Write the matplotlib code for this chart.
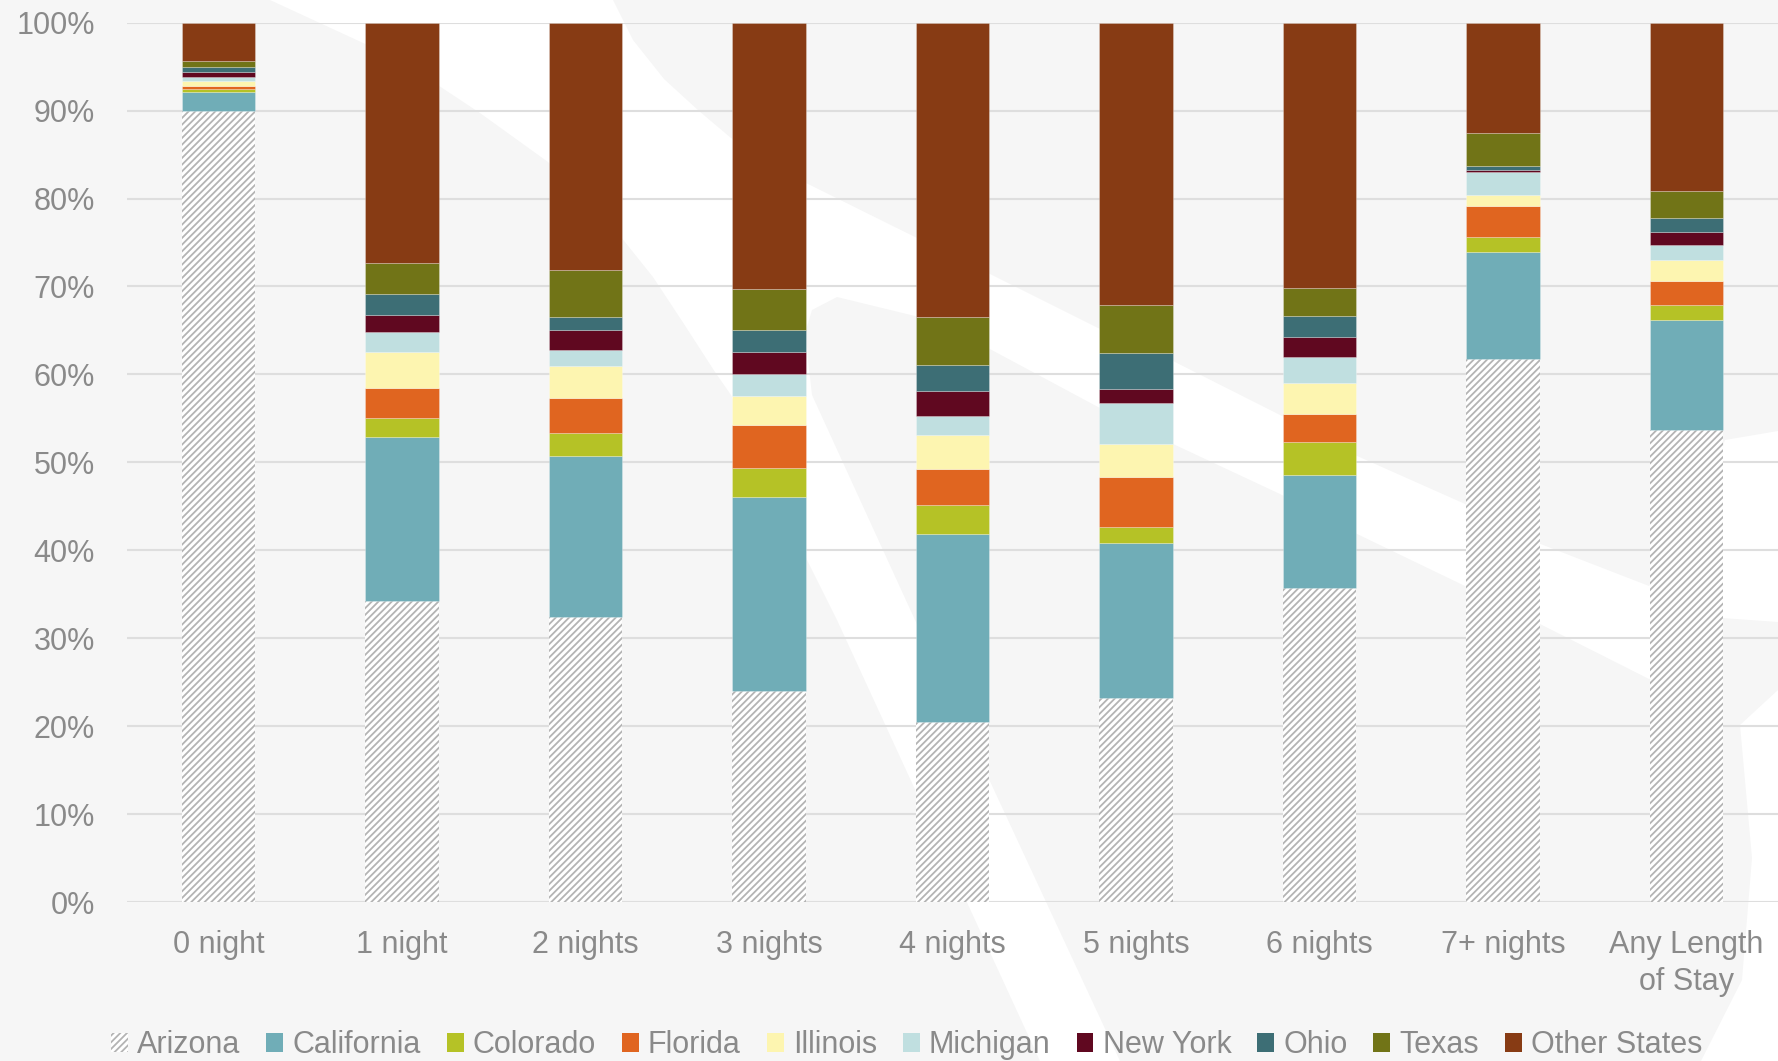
import numpy as np
import matplotlib
matplotlib.use("Agg")
import matplotlib.pyplot as plt
from matplotlib.patches import Polygon, Patch

plt.rcParams["font.family"] = ["Liberation Sans", "DejaVu Sans"]
plt.rcParams["hatch.linewidth"] = 1.3

categories = ["0 night", "1 night", "2 nights", "3 nights", "4 nights",
              "5 nights", "6 nights", "7+ nights", "Any Length\nof Stay"]

# udzialy w %
arizona    = [90.0, 34.2, 32.4, 24.0, 20.5, 23.2, 35.7, 61.7, 53.7]
california = [2.1, 18.7, 18.3, 22.1, 21.4, 17.6, 12.9, 12.2, 12.5]
colorado   = [0.38, 2.2, 2.6, 3.3, 3.3, 1.8, 3.7, 1.7, 1.7]
florida    = [0.34, 3.3, 4.0, 4.9, 4.0, 5.7, 3.2, 3.5, 2.7]
illinois   = [0.57, 4.1, 3.7, 3.2, 3.9, 3.8, 3.5, 1.3, 2.4]
michigan   = [0.45, 2.3, 1.8, 2.6, 2.2, 4.6, 3.0, 2.6, 1.7]
new_york   = [0.57, 2.0, 2.3, 2.5, 2.8, 1.6, 2.2, 0.2, 1.5]
ohio       = [0.5, 2.4, 1.4, 2.5, 3.0, 4.1, 2.5, 0.5, 1.6]
texas      = [0.7, 3.5, 5.4, 4.6, 5.4, 5.5, 3.1, 3.8, 3.1]
other      = [4.4, 27.3, 28.1, 30.3, 33.5, 32.1, 30.2, 12.5, 19.1]

series_names = ["Arizona", "California", "Colorado", "Florida", "Illinois",
                "Michigan", "New York", "Ohio", "Texas", "Other States"]
series_vals = [arizona, california, colorado, florida, illinois,
               michigan, new_york, ohio, texas, other]
colors = ["#ffffff", "#70adb7", "#b5c226", "#e06520", "#fdf5b0",
          "#c0dfe0", "#600820", "#3d6e75", "#717417", "#873b14"]

BG = "#f6f6f6"
TXT = "#8a8a8a"
HATCH = "#b4b4b4"
W, H = 1778, 1061

fig = plt.figure(figsize=(W / 100, H / 100), dpi=100, facecolor=BG)


# bialy znak wodny w tle (przyblizenie, w pikselach obrazka)
def px(pts):
    return [(x / W, 1 - y / H) for x, y in pts]


band_top = [(270, 0), (613, 0), (633, 40), (664, 79), (699, 111), (731, 138),
            (804, 182), (915, 237), (988, 273), (1098, 328), (1171, 360),
            (1280, 415), (1355, 455), (1465, 504), (1538, 543), (1649, 586),
            (1700, 520), (1725, 440), (1778, 431)]
band_low = [(1778, 622), (1722, 618), (1690, 668), (1649, 679), (1538, 623),
            (1465, 586), (1355, 533), (1280, 494), (1171, 443), (1098, 407),
            (988, 348), (915, 316), (837, 297), (812, 310), (806, 330),
            (808, 360), (812, 395), (915, 620), (1120, 1061)]
leg_left = [(1040, 1061), (837, 620), (804, 554), (731, 395), (715, 372),
            (684, 324), (653, 277), (621, 237), (548, 162), (480, 113),
            (400, 60)]
right_stroke = [(1778, 690), (1740, 725), (1752, 858), (1742, 980),
                (1701, 1061), (1778, 1061)]

for pts in [band_top + band_low + leg_left, right_stroke]:
    fig.add_artist(Polygon(px(pts), closed=True, transform=fig.transFigure,
                           facecolor="white", edgecolor="none", zorder=-1))

ax = fig.add_axes([127 / W, 1 - 902 / H, 1 - 127 / W, (902 - 22.7) / H])
ax.set_facecolor("none")

x = np.arange(len(categories))
bottom = np.zeros(len(categories))
for name, vals, col in zip(series_names, series_vals, colors):
    vals = np.array(vals)
    if name == "Arizona":
        ax.bar(x, vals, 0.4, bottom=bottom, facecolor="white",
               edgecolor=HATCH, linewidth=0, hatch="/////", zorder=3)
    else:
        ax.bar(x, vals, 0.4, bottom=bottom, color=col,
               edgecolor=(1, 1, 1, 0.3), linewidth=0.6, zorder=3)
    bottom += vals

ax.set_xlim(-0.5, 8.5)
ax.set_ylim(0, 100)
ax.set_yticks(np.arange(0, 101, 10))
ax.set_yticklabels([f"{v}%" for v in range(0, 101, 10)])
ax.set_xticks(x)
ax.set_xticklabels(categories, linespacing=1.32)
ax.tick_params(axis="both", length=0, labelsize=22, labelcolor=TXT)
ax.tick_params(axis="y", pad=23)
ax.tick_params(axis="x", pad=20)
ax.grid(axis="y", color="#dedede", linewidth=1.5, zorder=0)
for s in ax.spines.values():
    s.set_visible(False)

handles = []
for name, col in zip(series_names, colors):
    if name == "Arizona":
        handles.append(Patch(facecolor="white", edgecolor=HATCH,
                             linewidth=0, hatch="/////", label=name))
    else:
        handles.append(Patch(facecolor=col, edgecolor="none", label=name))

fig.legend(handles=handles, loc="center", bbox_to_anchor=(0.51, 0.015),
           ncol=10, frameon=False, fontsize=22, labelcolor=TXT,
           handlelength=0.55, handleheight=0.6, handletextpad=0.3,
           columnspacing=0.85, borderaxespad=0)

fig.savefig("out.png", dpi=100, facecolor=BG)
